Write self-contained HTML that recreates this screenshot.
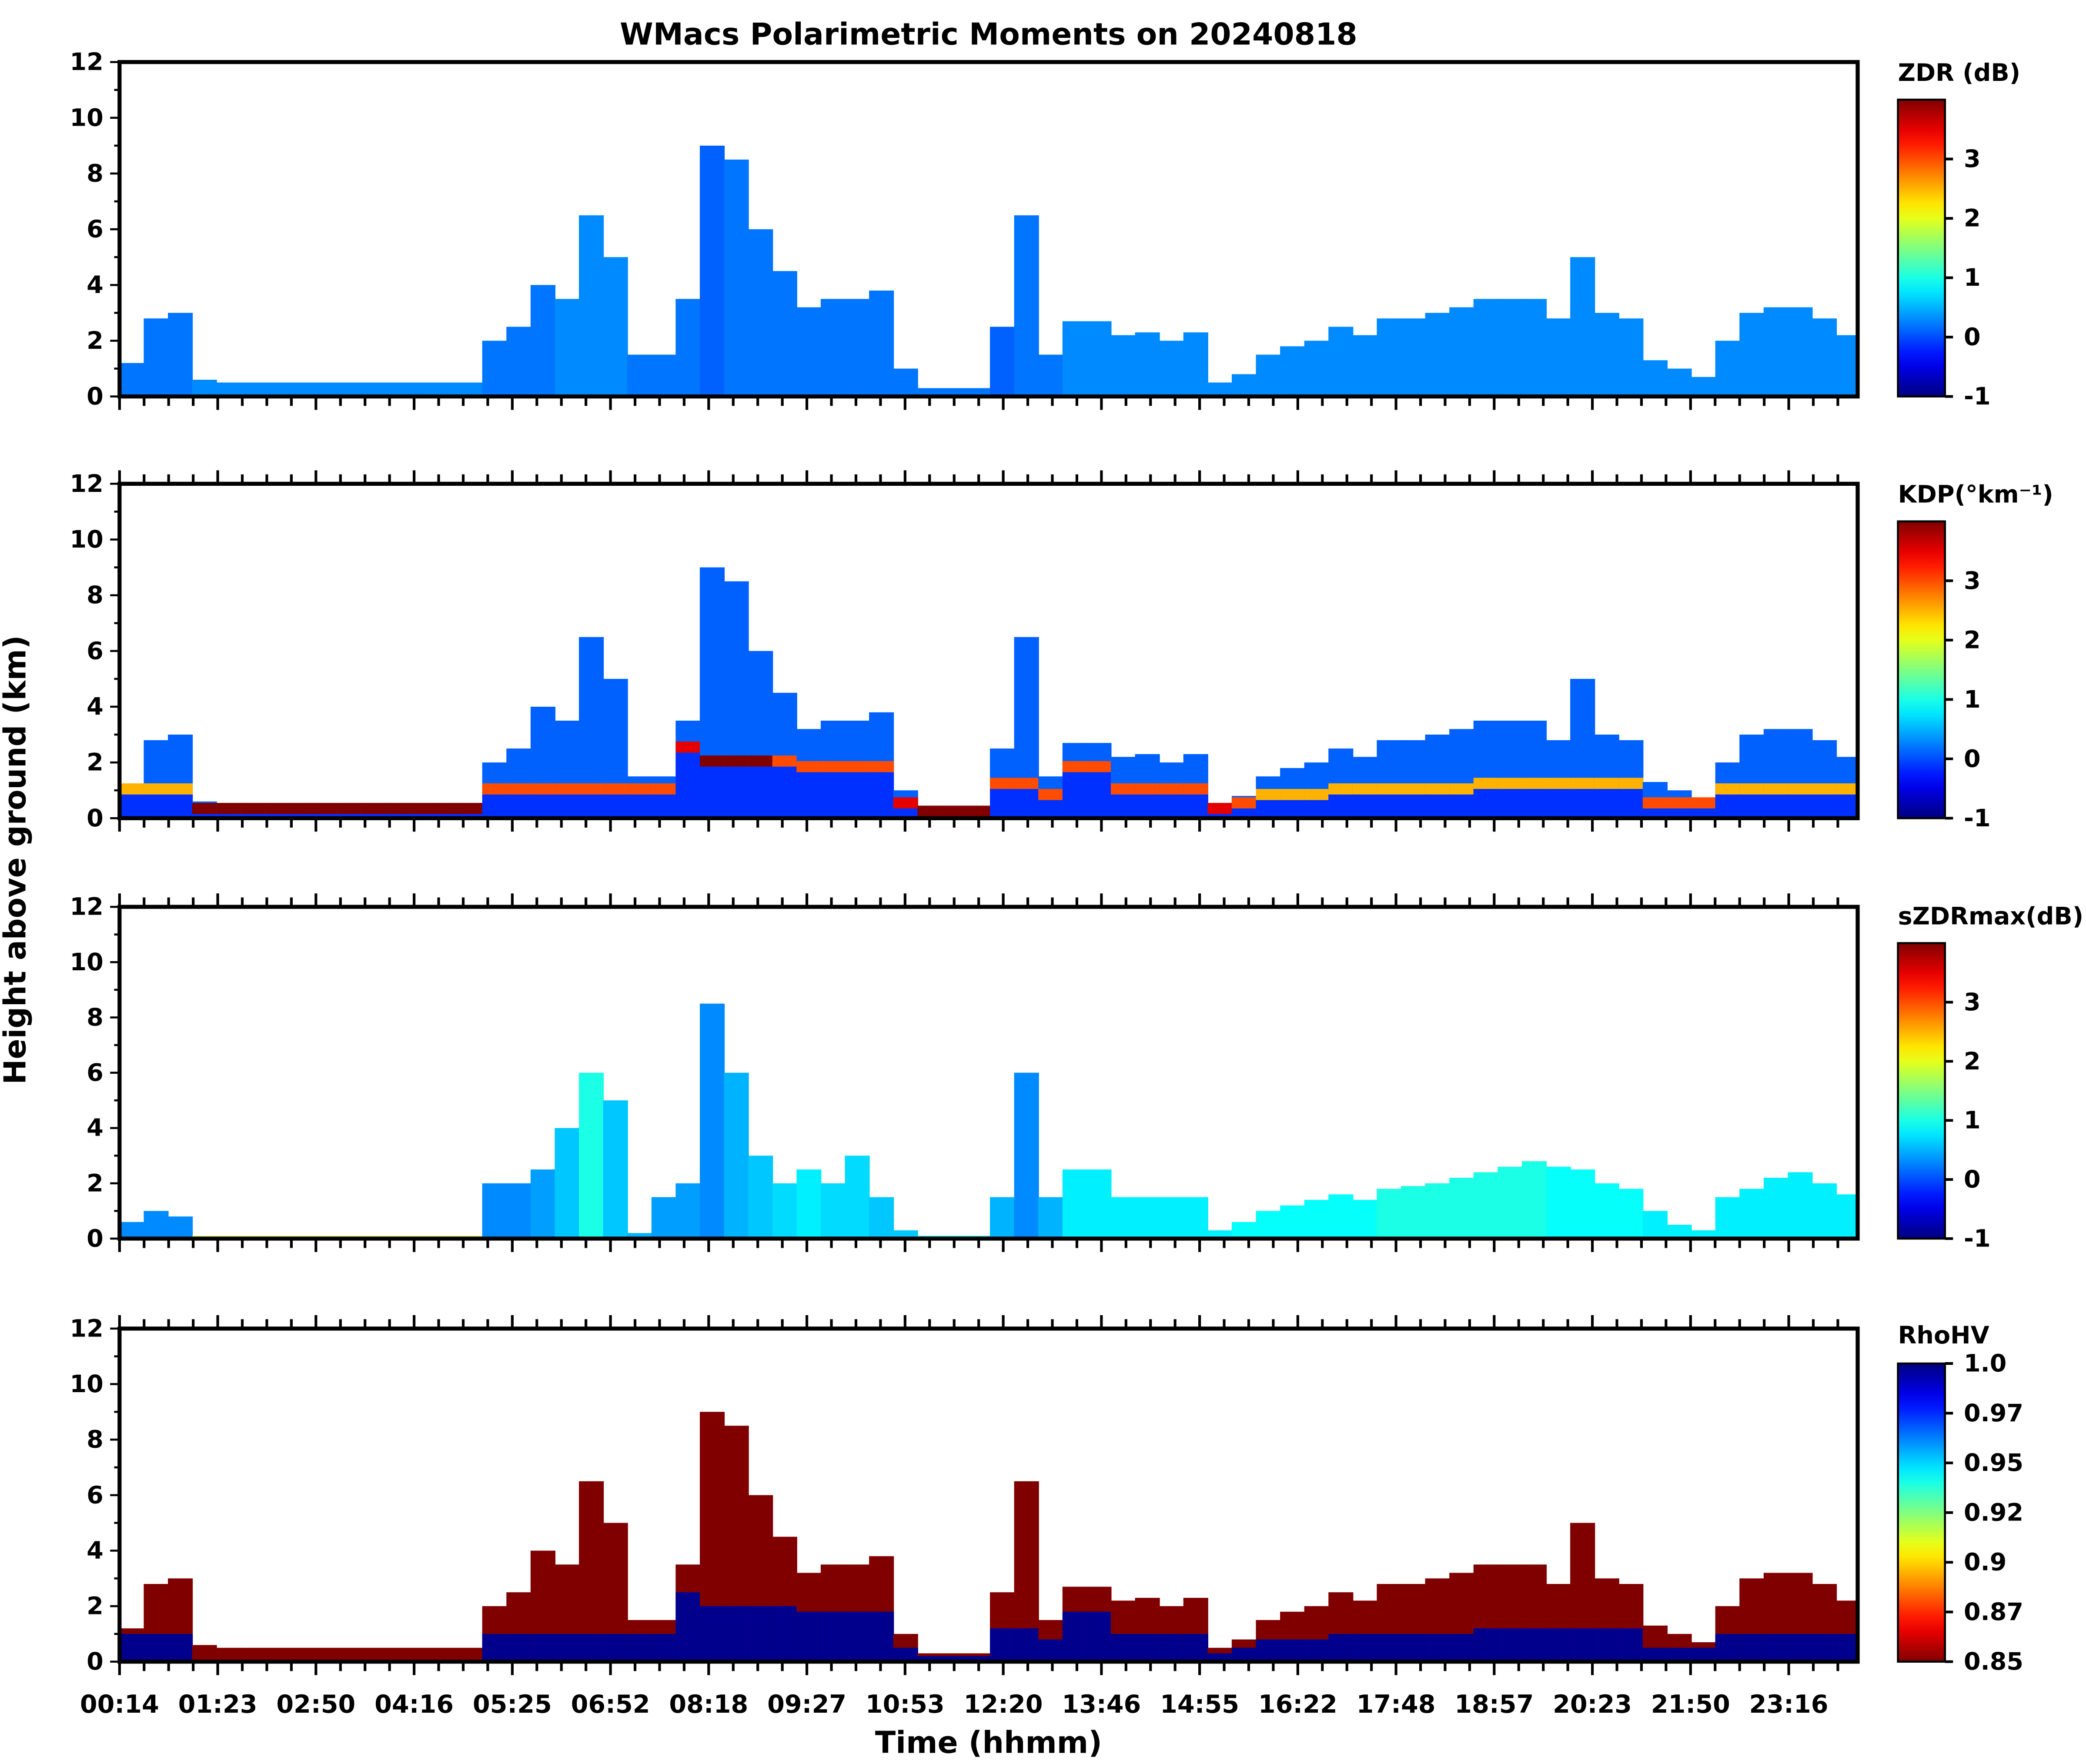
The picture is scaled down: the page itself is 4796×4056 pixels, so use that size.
<!DOCTYPE html>
<html><head><meta charset="utf-8"><style>
html,body{margin:0;padding:0;background:#fff;}
svg{display:block;}
text{font-family:"DejaVu Sans","Liberation Sans",sans-serif;font-weight:bold;fill:#000;}
</style></head><body>
<svg id="chart" xmlns="http://www.w3.org/2000/svg" width="4796" height="4056" viewBox="0 0 1553 1313">
<rect width="1553" height="1313" fill="#fff"/>
<text x="736" y="33" font-size="22.5" text-anchor="middle">WMacs Polarimetric Moments on 20240818</text>
<text transform="translate(19,640) rotate(-90)" font-size="22.5" text-anchor="middle">Height above ground (km)</text>
<text x="736" y="1305" font-size="22.5" text-anchor="middle">Time (hhmm)</text>
<g id="plots"></g>
</svg>
<script>
// ---- data (72 time bins across the day) ----
const timeLabels = ["00:14","01:23","02:50","04:16","05:25","06:52","08:18","09:27","10:53","12:20","13:46","14:55","16:22","17:48","18:57","20:23","21:50","23:16"];
const yTicks = [0,2,4,6,8,10,12];
const echoTop = [1.2,2.8,3.0,0.6,0.5,0.5,0.5,0.5,0.5,0.5,0.5,0.5,0.5,0.5,0.5,2.0,2.5,4.0,3.5,6.5,5.0,1.5,1.5,3.5,9.0,8.5,6.0,4.5,3.2,3.5,3.5,3.8,1.0,0.3,0.3,0.3,2.5,6.5,1.5,2.7,2.7,2.2,2.3,2.0,2.3,0.5,0.8,1.5,1.8,2.0,2.5,2.2,2.8,2.8,3.0,3.2,3.5,3.5,3.5,2.8,5.0,3.0,2.8,1.3,1.0,0.7,2.0,3.0,3.2,3.2,2.8,2.2];
const meltHeight = [1.0,1.0,1.0,0.3,0.3,0.3,0.3,0.3,0.3,0.3,0.3,0.3,0.3,0.3,0.3,1.0,1.0,1.0,1.0,1.0,1.0,1.0,1.0,2.5,2.0,2.0,2.0,2.0,1.8,1.8,1.8,1.8,0.5,0.2,0.2,0.2,1.2,1.2,0.8,1.8,1.8,1.0,1.0,1.0,1.0,0.3,0.5,0.8,0.8,0.8,1.0,1.0,1.0,1.0,1.0,1.0,1.2,1.2,1.2,1.2,1.2,1.2,1.2,0.5,0.5,0.5,1.0,1.0,1.0,1.0,1.0,1.0];
const zdrVals = [0.2,0.2,0.2,0.3,0.3,0.3,0.3,0.3,0.3,0.3,0.3,0.3,0.3,0.3,0.3,0.2,0.2,0.2,0.3,0.3,0.3,0.2,0.2,0.2,0.1,0.2,0.2,0.2,0.2,0.2,0.2,0.2,0.2,0.2,0.2,0.2,0.1,0.2,0.2,0.3,0.3,0.3,0.3,0.3,0.3,0.3,0.3,0.3,0.3,0.3,0.3,0.3,0.3,0.3,0.3,0.3,0.3,0.3,0.3,0.3,0.3,0.3,0.3,0.3,0.3,0.3,0.3,0.3,0.3,0.3,0.3,0.3];
const kdpBand = [2.5,2.5,2.5,4,4,4,4,4,4,4,4,4,4,4,4,3,3,3,3,3,3,3,3,3.5,4,4,4,3,3,3,3,3,3.5,4,4,4,3,3,3,3,3,3,3,3,3,3.5,3,2.5,2.5,2.5,2.5,2.5,2.5,2.5,2.5,2.5,2.5,2.5,2.5,2.5,2.5,2.5,2.5,3,3,3,2.5,2.5,2.5,2.5,2.5,2.5];
const szdrTop = [0.6,1.0,0.8,0.1,0.1,0.1,0.1,0.1,0.1,0.1,0.1,0.1,0.1,0.1,0.1,2.0,2.0,2.5,4.0,6.0,5.0,0.2,1.5,2.0,8.5,6.0,3.0,2.0,2.5,2.0,3.0,1.5,0.3,0.1,0.1,0.1,1.5,6.0,1.5,2.5,2.5,1.5,1.5,1.5,1.5,0.3,0.6,1.0,1.2,1.4,1.6,1.4,1.8,1.9,2.0,2.2,2.4,2.6,2.8,2.6,2.5,2.0,1.8,1.0,0.5,0.3,1.5,1.8,2.2,2.4,2.0,1.6];
const szdrVals = [0.3,0.3,0.3,2.0,2.0,2.0,2.0,2.0,2.0,2.0,2.0,2.0,2.0,2.0,2.0,0.3,0.3,0.4,0.6,1.0,0.6,0.5,0.4,0.4,0.3,0.5,0.6,0.7,0.8,0.7,0.7,0.6,0.6,0.8,0.8,0.8,0.5,0.3,0.5,0.8,0.8,0.8,0.8,0.8,0.8,0.8,0.9,0.9,0.9,0.9,0.9,0.9,1.0,1.0,1.0,1.0,1.0,1.0,1.0,0.9,0.9,0.9,0.9,0.8,0.8,0.8,0.8,0.8,0.8,0.8,0.8,0.8];

// ---- layout ----
const X0=89, X1=1383, BIN=18, LABSTEP=73.1;
const panels=[{t:46,b:295},{t:360,b:609},{t:675,b:922},{t:989,b:1237}];
const NS="http://www.w3.org/2000/svg";
const root=document.getElementById('plots');
function jet(v){v=Math.max(0,Math.min(1,v));
 const r=Math.max(0,Math.min(1,1.5-Math.abs(4*v-3))),g=Math.max(0,Math.min(1,1.5-Math.abs(4*v-2))),b=Math.max(0,Math.min(1,1.5-Math.abs(4*v-1)));
 return `rgb(${Math.round(r*255)},${Math.round(g*255)},${Math.round(b*255)})`;}
function mk(tag,attrs,parent){const e=document.createElementNS(NS,tag);for(const k in attrs)e.setAttribute(k,attrs[k]);(parent||root).appendChild(e);return e;}
function xb(i){return X0+i*BIN;}
function yk(p,h){return p.b-(h/12)*(p.b-p.t);}
function zcol(v){return jet((v+1)/5);}

panels.forEach((p,pi)=>{
 const g=mk('g',{});
 
 
 for(let i=0;i<echoTop.length;i++){
  const x=xb(i), w=Math.min(BIN,X1-x)+0.5;
  if(w<=0)continue;
  let r;
  if(pi===0){
   r=mk('rect',{x:x,y:yk(p,echoTop[i]),width:w,height:p.b-yk(p,echoTop[i]),fill:zcol(zdrVals[i])},g);
   
   
  } else if(pi===1){
   r=mk('rect',{x:x,y:yk(p,echoTop[i]),width:w,height:p.b-yk(p,echoTop[i]),fill:zcol(0.1)},g);
   
   
   const mh=Math.min(meltHeight[i],echoTop[i]);
   const b=mk('rect',{x:x,y:yk(p,mh+0.25),width:w,height:yk(p,mh-0.15)-yk(p,mh+0.25),fill:zcol(kdpBand[i])},g);
   
   
   const d=mk('rect',{x:x,y:yk(p,Math.max(0,mh-0.15)),width:w,height:p.b-yk(p,Math.max(0,mh-0.15)),fill:zcol(-0.3),opacity:0.6},g);
   
   
  } else if(pi===2){
   r=mk('rect',{x:x,y:yk(p,szdrTop[i]),width:w,height:p.b-yk(p,szdrTop[i]),fill:zcol(szdrVals[i])},g);
   
   
  } else {
   r=mk('rect',{x:x,y:yk(p,echoTop[i]),width:w,height:p.b-yk(p,echoTop[i]),fill:'rgb(128,0,0)'},g);
   
   
   const mh=Math.min(meltHeight[i],echoTop[i]);
   if(i<3||i>14){
   const n=mk('rect',{x:x,y:yk(p,mh),width:w,height:p.b-yk(p,mh),fill:'rgb(0,0,140)'},g);
   
   }
  }
 }
 const f=mk('rect',{x:X0,y:p.t,width:X1-X0,height:p.b-p.t,fill:'none',stroke:'#000','stroke-width':3},g);
 
 
 for(let k=0;k<=12;k++){
  const y=yk(p,k);
  mk('line',{x1:X0,x2:X0-(k%2?4:7),y1:y,y2:y,stroke:'#000','stroke-width':1.5},g);
 }
 yTicks.forEach(v=>{
  const t=mk('text',{x:X0-12,y:yk(p,v)+6,'font-size':18,'text-anchor':'end'},g);
  t.textContent=v;
  
  
 });
 for(let k=0;k*LABSTEP/4<=X1-X0+1;k++){
  const x=X0+k*LABSTEP/4, len=k%4?7:10;
  mk('line',{x1:x,x2:x,y1:p.b,y2:p.b+len,stroke:'#000','stroke-width':2},g);
  if(pi>0) mk('line',{x1:x,x2:x,y1:p.t,y2:p.t-len,stroke:'#000','stroke-width':2},g);
 }
});
timeLabels.forEach((s,i)=>{
 const t=mk('text',{x:X0+i*LABSTEP,y:1275,'font-size':18.5,'text-anchor':'middle'});
 t.textContent=s;
 
 
});
const cbars=[{title:'ZDR (dB)',t:74,b:295,ty:60},{title:'KDP(°km⁻¹)',t:388,b:609,ty:374},{title:'sZDRmax(dB)',t:702,b:922,ty:688},{title:'RhoHV',t:1015,b:1237,ty:1000}];
const jetTicks=[-1,0,1,2,3];
const rhoTicks=["0.85","0.87","0.9","0.92","0.95","0.97","1.0"];
const defs=mk('defs',{});
const gj=mk('linearGradient',{id:'gjet',x1:0,y1:1,x2:0,y2:0},defs);
const gr=mk('linearGradient',{id:'grho',x1:0,y1:0,x2:0,y2:1},defs);
for(let s=0;s<=20;s++){mk('stop',{offset:s/20,'stop-color':jet(s/20)},gj);mk('stop',{offset:s/20,'stop-color':jet(s/20)},gr);}
cbars.forEach((c,ci)=>{
 const g=mk('g',{});
 
 
 const tt=mk('text',{x:1413,y:c.ty,'font-size':18},g);
 tt.textContent=c.title;
 
 
 mk('rect',{x:1413,y:c.t,width:35,height:c.b-c.t,fill:ci<3?'url(#gjet)':'url(#grho)',stroke:'#000','stroke-width':1.5},g);
 if(ci<3){
  jetTicks.forEach(v=>{const y=c.b-(v+1)/5*(c.b-c.t);
   mk('line',{x1:1448,x2:1454,y1:y,y2:y,stroke:'#000','stroke-width':2},g);
   const t=mk('text',{x:1462,y:y+6,'font-size':18},g);t.textContent=v;
   
   });
 } else {
  rhoTicks.forEach((v,i)=>{const y=c.b-i/(rhoTicks.length-1)*(c.b-c.t);
   mk('line',{x1:1448,x2:1454,y1:y,y2:y,stroke:'#000','stroke-width':2},g);
   const t=mk('text',{x:1462,y:y+6,'font-size':18},g);t.textContent=v;
   
   });
 }
});
</script>
</body></html>
